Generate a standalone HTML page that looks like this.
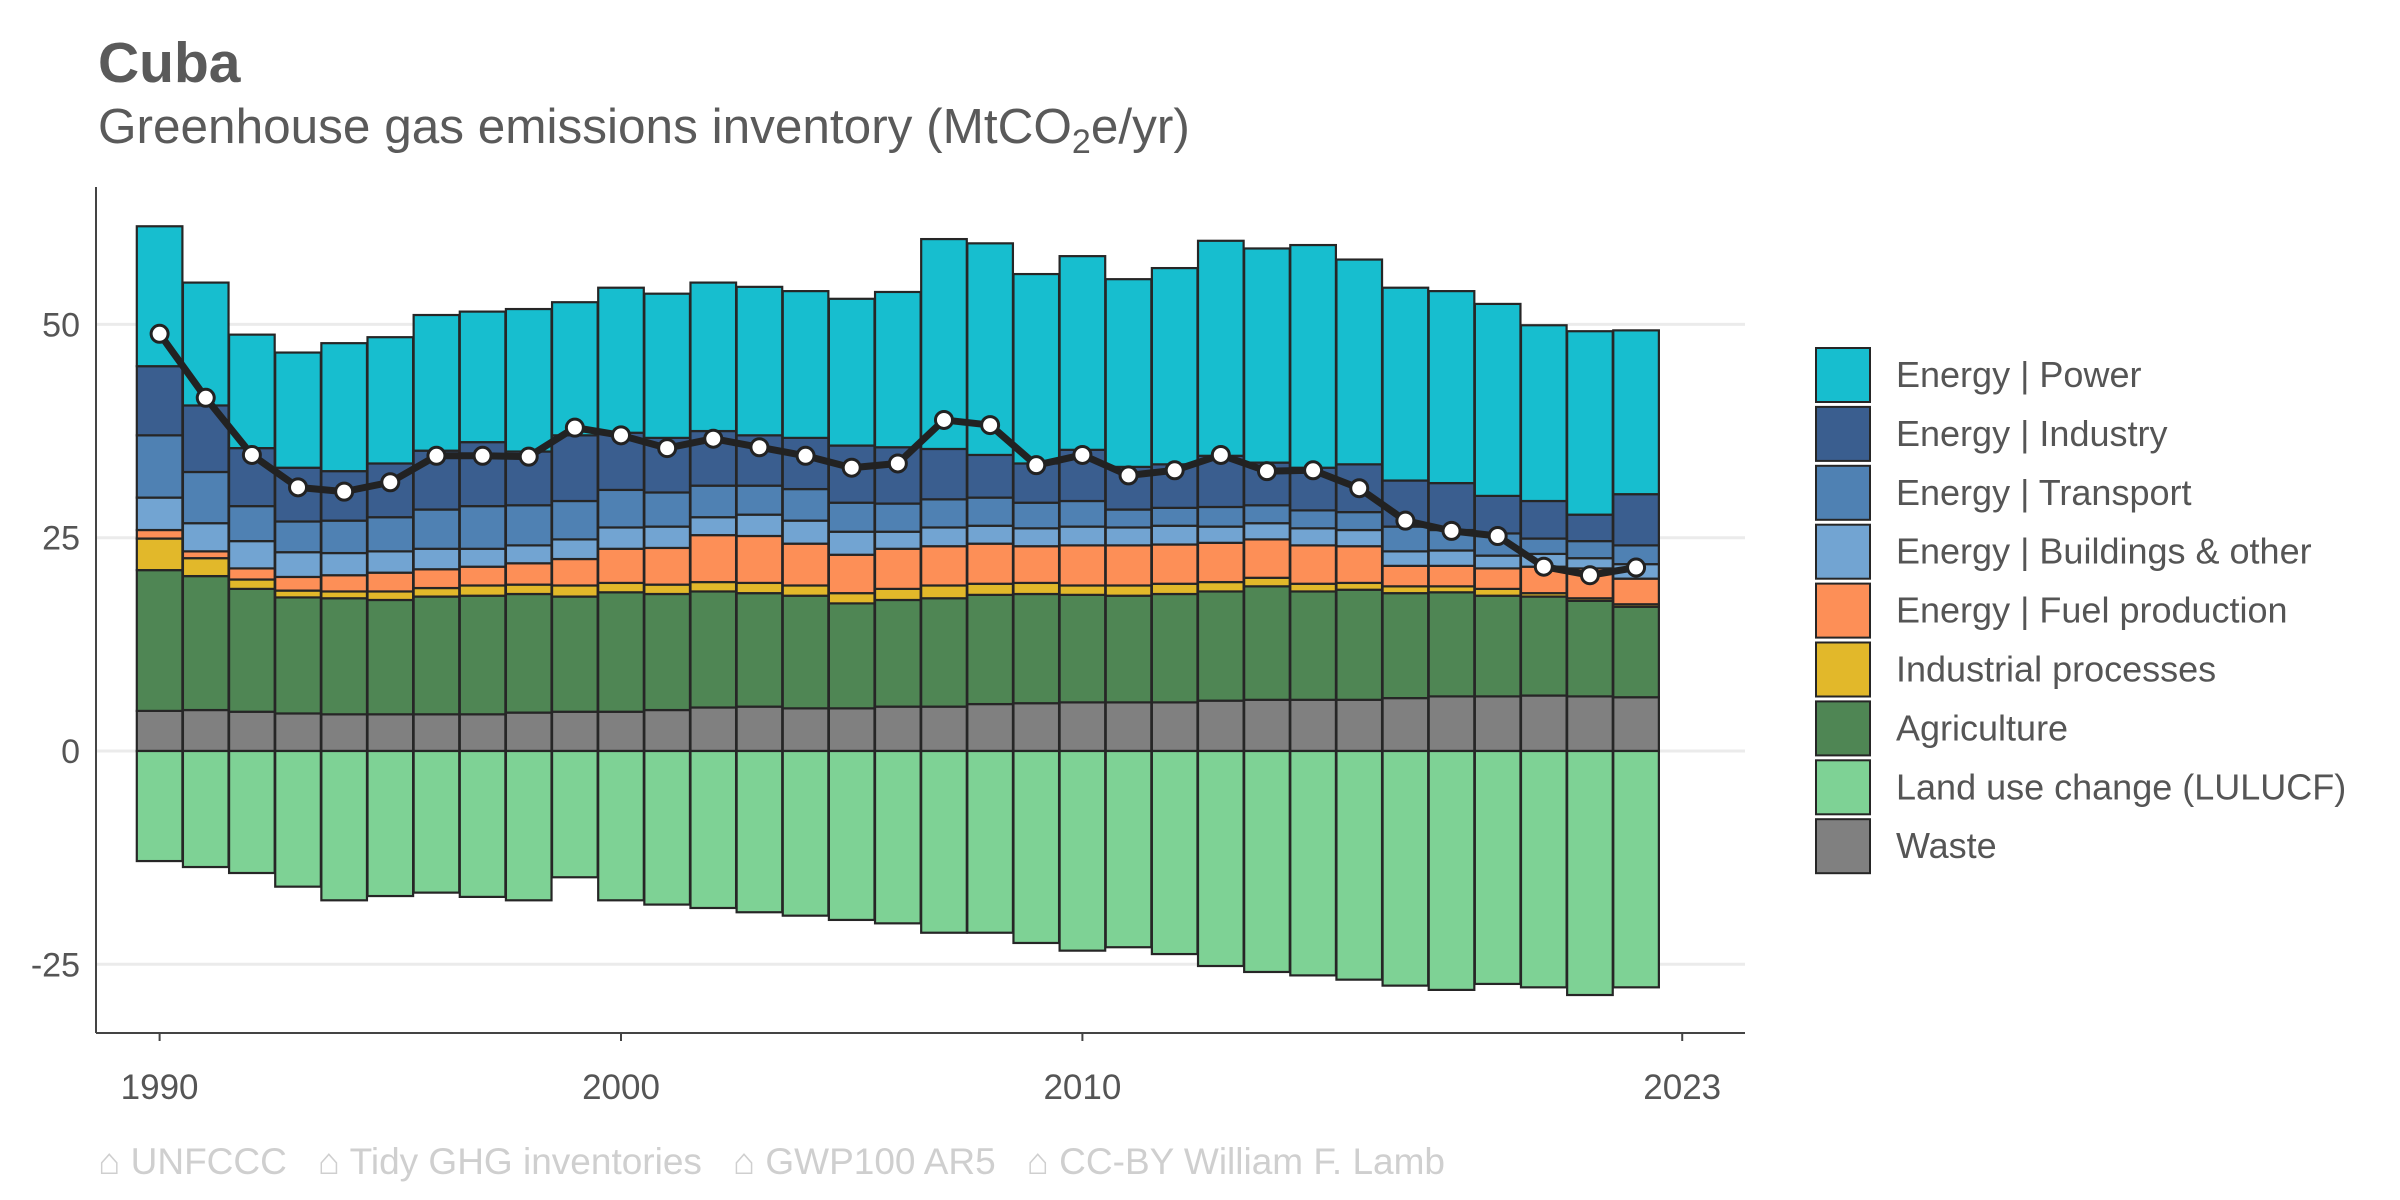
<!DOCTYPE html>
<html><head><meta charset="utf-8"><style>
html,body{margin:0;padding:0;background:#fff;}
svg{display:block;font-family:"Liberation Sans",Arial,sans-serif;}
</style></head><body>
<svg id="chart" width="2400" height="1200" viewBox="0 0 2400 1200" xmlns="http://www.w3.org/2000/svg">
<text x="98" y="82" font-size="57" font-weight="bold" fill="#5a5a5a">Cuba</text>
<text x="98" y="143" font-size="49.5" fill="#5a5a5a">Greenhouse gas emissions inventory (MtCO<tspan font-size="34" dy="10">2</tspan><tspan dy="-10">e/yr)</tspan></text>
<g id="grid"></g>
<g id="bars"></g>
<g id="line"></g>
<g id="axes"></g>
<g id="legend"></g>
<text x="98" y="1174" font-size="37" fill="#cfcfcf" xml:space="preserve">⌂ UNFCCC   ⌂ Tidy GHG inventories   ⌂ GWP100 AR5   ⌂ CC-BY William F. Lamb</text>
</svg>
<script>
const years = [1990,1991,1992,1993,1994,1995,1996,1997,1998,1999,2000,2001,2002,2003,2004,2005,2006,2007,2008,2009,2010,2011,2012,2013,2014,2015,2016,2017,2018,2019,2020,2021,2022];
const waste = [4.7,4.8,4.6,4.4,4.3,4.3,4.3,4.3,4.5,4.6,4.6,4.8,5.1,5.2,5.0,5.0,5.2,5.2,5.5,5.6,5.7,5.7,5.7,5.9,6.0,6.0,6.0,6.2,6.4,6.4,6.5,6.4,6.3];
const agriculture = [16.5,15.7,14.4,13.6,13.6,13.4,13.8,13.9,13.9,13.5,14.0,13.6,13.6,13.3,13.2,12.3,12.5,12.7,12.8,12.8,12.6,12.5,12.7,12.8,13.3,12.7,12.9,12.3,12.2,11.8,11.6,11.2,10.6];
const industrialProcesses = [3.7,2.1,1.1,0.8,0.8,1.0,1.0,1.2,1.1,1.3,1.1,1.1,1.1,1.2,1.2,1.2,1.3,1.5,1.3,1.3,1.1,1.2,1.2,1.1,1.0,0.9,0.8,0.8,0.7,0.8,0.4,0.3,0.3];
const fuelProduction = [1.0,0.8,1.3,1.6,1.9,2.2,2.2,2.2,2.5,3.1,4.0,4.3,5.5,5.5,4.9,4.5,4.7,4.6,4.7,4.3,4.7,4.7,4.6,4.6,4.5,4.5,4.3,2.4,2.4,2.4,3.1,3.5,3.0];
const buildings = [3.8,3.3,3.2,2.9,2.6,2.5,2.4,2.1,2.1,2.3,2.5,2.5,2.1,2.5,2.7,2.7,2.0,2.2,2.1,2.1,2.2,2.1,2.2,1.9,1.9,2.0,1.9,1.7,1.8,1.5,1.5,1.2,1.7];
const transport = [7.3,6.0,4.1,3.6,3.8,4.0,4.6,5.0,4.7,4.5,4.4,4.0,3.7,3.4,3.7,3.4,3.3,3.3,3.3,3.0,3.0,2.1,2.1,2.3,2.1,2.1,2.1,2.9,2.4,2.6,1.8,2.0,2.2];
const industry = [8.1,7.8,6.8,6.3,5.8,6.3,6.9,7.5,6.3,7.7,6.7,6.4,6.4,5.9,6.0,6.7,6.6,5.9,5.0,4.6,6.0,5.0,5.1,6.0,5.0,5.0,5.6,5.4,5.5,4.4,4.4,3.1,6.0];
const power = [16.4,14.4,13.3,13.5,15.0,14.8,15.9,15.3,16.7,15.6,17.0,16.9,17.4,17.4,17.2,17.2,18.2,24.6,24.8,22.2,22.7,22.0,23.0,25.2,25.1,26.1,24.0,22.6,22.5,22.5,20.6,21.5,19.2];
const lulucf = [-12.9,-13.6,-14.3,-15.9,-17.5,-17.0,-16.6,-17.1,-17.5,-14.8,-17.5,-18.0,-18.4,-18.9,-19.3,-19.8,-20.2,-21.3,-21.3,-22.5,-23.4,-23.0,-23.8,-25.2,-25.9,-26.3,-26.8,-27.5,-28.0,-27.3,-27.7,-28.6,-27.7];
const netTotal = [48.9,41.4,34.7,30.9,30.4,31.5,34.6,34.6,34.5,37.9,37.0,35.5,36.6,35.6,34.6,33.2,33.7,38.8,38.2,33.5,34.7,32.3,32.9,34.7,32.8,32.9,30.8,27.0,25.8,25.2,21.6,20.6,21.5];
const yTicks = [-25,0,25,50];
const xTicks = [1990,2000,2010,2023];
const legendLabels = ["Energy | Power","Energy | Industry","Energy | Transport","Energy | Buildings & other","Energy | Fuel production","Industrial processes","Agriculture","Land use change (LULUCF)","Waste"];

const NS="http://www.w3.org/2000/svg";
const x=yr=>159.6+(yr-1990)*46.14;
const y=v=>751-v*8.532;
const BW=45.6;
function mk(tag,attrs,parent){const e=document.createElementNS(NS,tag);for(const k in attrs)e.setAttribute(k,attrs[k]);parent.appendChild(e);return e;}

const grid=document.getElementById('grid');
yTicks.forEach(t=>{const l=mk('line',{x1:96,x2:1745,y1:y(t),y2:y(t),stroke:'#ebebeb','stroke-width':3},grid);

});

const stack=[
 {name:'waste',vals:waste,color:'#808080'},
 {name:'agriculture',vals:agriculture,color:'#4f8654'},
 {name:'industrial-processes',vals:industrialProcesses,color:'#e2b82a'},
 {name:'fuel-production',vals:fuelProduction,color:'#fd8f57'},
 {name:'buildings',vals:buildings,color:'#72a4d2'},
 {name:'transport',vals:transport,color:'#4f81b3'},
 {name:'industry',vals:industry,color:'#3a5e8f'},
 {name:'power',vals:power,color:'#17becf'}];
const bars=document.getElementById('bars');
years.forEach((yr,i)=>{
  let base=0;
  stack.forEach(s=>{const v=s.vals[i];
    const r=mk('rect',{x:x(yr)-BW/2,y:y(base+v),width:BW,height:y(base)-y(base+v),fill:s.color,stroke:'#262626','stroke-width':2.2},bars);
    
    
    base+=v;});
  const r=mk('rect',{x:x(yr)-BW/2,y:y(0),width:BW,height:y(lulucf[i])-y(0),fill:'#7ed295',stroke:'#262626','stroke-width':2.2},bars);
  
  
});

const lg=document.getElementById('line');
const pl=mk('polyline',{points:years.map((yr,i)=>x(yr)+','+y(netTotal[i])).join(' '),fill:'none',stroke:'#222','stroke-width':7,'stroke-linejoin':'round'},lg);


years.forEach((yr,i)=>{const c=mk('circle',{cx:x(yr),cy:y(netTotal[i]),r:8.5,fill:'#fff',stroke:'#222','stroke-width':3},lg);

});

const ax=document.getElementById('axes');
const la=mk('line',{x1:96,x2:96,y1:187,y2:1033,stroke:'#444','stroke-width':2},ax);


const ba=mk('line',{x1:96,x2:1745,y1:1033,y2:1033,stroke:'#444','stroke-width':2},ax);


yTicks.forEach(t=>{const tx=mk('text',{x:80,y:y(t)+12,'font-size':34,fill:'#555','text-anchor':'end'},ax);tx.textContent=t;

});
xTicks.forEach(t=>{const tk=mk('line',{x1:x(t),x2:x(t),y1:1033,y2:1041,stroke:'#444','stroke-width':2},ax);


const tx=mk('text',{x:x(t),y:1099,'font-size':35,fill:'#555','text-anchor':'middle'},ax);tx.textContent=t;

});

const legColors=['#17becf','#3a5e8f','#4f81b3','#72a4d2','#fd8f57','#e2b82a','#4f8654','#7ed295','#808080'];
const leg=document.getElementById('legend');
legendLabels.forEach((lab,i)=>{const cy=375+i*58.9;
const g=mk('g',{},leg);


mk('rect',{x:1816,y:cy-27,width:54,height:54,fill:legColors[i],stroke:'#262626','stroke-width':2},g);
const t=mk('text',{x:1896,y:cy+12,'font-size':36,fill:'#555'},g);t.textContent=lab;});
</script>
</body></html>
